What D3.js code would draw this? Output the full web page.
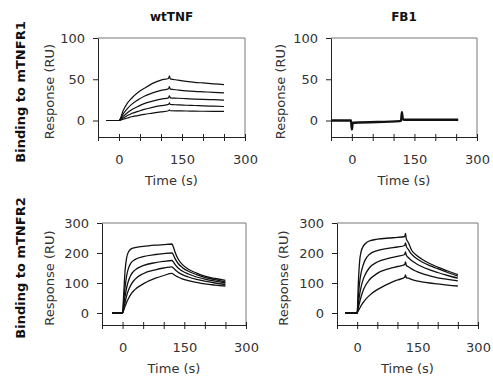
<!DOCTYPE html>
<html><head><meta charset="utf-8">
<script src="https://cdn.jsdelivr.net/npm/d3@7"></script>
<style>body{margin:0;background:#fff}svg{display:block}</style>
</head><body>
<script>
// ---- Data ----
const colTitles = ["wtTNF", "FB1"];
const rowTitles = ["Binding to mTNFR1", "Binding to mTNFR2"];
const xTicks = [-50, 0, 50, 100, 150, 200, 250, 300];
const xTickLabels = ["", "0", "", "", "150", "", "", "300"];
const yTicksTop = [100, 50, 0];
const yTicksBottom = [300, 200, 100, 0];

// wtTNF / mTNFR1
const tlTime = [-30, 0, 10, 20, 30, 45, 60, 80, 100, 118, 120, 122, 140, 160, 180, 200, 225, 250];
const tl1 = [0, 0, 12, 21, 27, 34, 39, 45, 49, 51, 54, 50.5, 49, 47.5, 46.3, 45.5, 44.5, 43.5];
const tl2 = [0, 0, 8, 14.5, 19.5, 25, 29.5, 33.5, 36.5, 38.5, 41, 38, 37, 36, 35.3, 34.8, 34.2, 33.5];
const tl3 = [0, 0, 5, 9.5, 13, 17, 20.5, 23.5, 26, 27.5, 30, 27.5, 27, 26.5, 26, 25.6, 25.2, 24.8];
const tl4 = [0, 0, 3, 6, 8.5, 11, 13.5, 16, 18, 19.5, 21.5, 19.5, 19, 18.5, 18.2, 17.8, 17.4, 17];
const tl5 = [0, 0, 1.5, 3, 4.5, 6, 7.5, 9, 10.5, 11.8, 13, 11.8, 11.6, 11.5, 11.3, 11.2, 11.1, 11];

// FB1 / mTNFR1
const trTime = [-50, -2, 0, 2, 5, 115, 118, 120, 122, 125, 255];
const tr1 = [0, 0, -11, -3, -2.8, -0.8, 0, 10, 2, 1, 1];

// wtTNF / mTNFR2
const blTime = [-25, 0, 3, 6, 10, 15, 20, 30, 50, 80, 100, 120, 123, 127, 135, 145, 160, 180, 200, 225, 250];
const bl1 = [0, 0, 70, 140, 185, 205, 213, 218, 222, 226, 228, 230, 222, 205, 180, 162, 146, 133, 123, 115, 109];
const bl2 = [0, 0, 45, 85, 125, 152, 166, 178, 188, 195, 198, 200, 195, 183, 165, 152, 139, 128, 119, 111, 104];
const bl3 = [0, 0, 28, 55, 85, 110, 126, 143, 158, 168, 172, 175, 171, 163, 150, 140, 130, 120, 113, 106, 100];
const bl4 = [0, 0, 18, 35, 58, 78, 93, 112, 131, 144, 150, 154, 151, 145, 136, 128, 120, 112, 106, 100, 95];
const bl5 = [0, 0, 10, 22, 36, 50, 62, 78, 97, 116, 125, 132, 130, 126, 120, 114, 108, 102, 97, 93, 90];

// FB1 / mTNFR2
const brTime = [-30, 0, 3, 6, 10, 15, 20, 30, 50, 80, 100, 118, 120, 122, 127, 135, 145, 160, 180, 200, 225, 250];
const br1 = [0, 0, 100, 170, 205, 222, 231, 240, 246, 250, 252, 255, 265, 248, 235, 210, 195, 180, 165, 153, 140, 128];
const br2 = [0, 0, 55, 100, 135, 160, 177, 195, 208, 216, 220, 225, 234, 222, 212, 196, 184, 171, 158, 148, 135, 123];
const br3 = [0, 0, 30, 60, 88, 112, 128, 150, 170, 183, 189, 195, 204, 193, 185, 175, 166, 155, 144, 135, 125, 116];
const br4 = [0, 0, 18, 35, 55, 75, 90, 110, 132, 148, 155, 161, 170, 159, 154, 147, 140, 132, 124, 117, 112, 107];
const br5 = [0, 0, 8, 15, 25, 35, 44, 58, 78, 99, 110, 119, 127, 118, 116, 112, 108, 104, 100, 97, 93, 90];

// ---- Drawing ----
const W = 493, H = 379;
const svg = d3.select("body").append("svg").attr("width", W).attr("height", H);
const FONT = "'DejaVu Sans', Verdana, sans-serif";

const panels = [
  {x0: 98, x1: 245, y0: 137, y1: 38, ydom: [-20, 100], yt: yTicksTop, time: tlTime, series: [tl1, tl2, tl3, tl4, tl5], sw: 1.2, title: colTitles[0], ytitleX: 49},
  {x0: 331, x1: 477, y0: 137, y1: 38, ydom: [-20, 100], yt: yTicksTop, time: trTime, series: [tr1], sw: 2.4, title: colTitles[1], ytitleX: 280},
  {x0: 102, x1: 246, y0: 325, y1: 223, ydom: [-40, 300], yt: yTicksBottom, time: blTime, series: [bl1, bl2, bl3, bl4, bl5], sw: 1.3, ytitleX: 49},
  {x0: 337, x1: 478, y0: 325, y1: 223, ydom: [-40, 300], yt: yTicksBottom, time: brTime, series: [br1, br2, br3, br4, br5], sw: 1.3, ytitleX: 283}
];

panels.forEach(p => {
  const x = d3.scaleLinear().domain([-50, 300]).range([p.x0, p.x1]);
  const y = d3.scaleLinear().domain(p.ydom).range([p.y0, p.y1]);
  const g = svg.append("g");

  // frame top/right (lighter)
  g.append("path").attr("d", `M${p.x0},${p.y1}H${p.x1}V${p.y0}`)
    .attr("fill", "none").attr("stroke", "#777").attr("stroke-width", 1);

  // x axis
  const xa = g.append("g").attr("transform", `translate(0,${p.y0})`)
    .call(d3.axisBottom(x).tickValues(xTicks).tickSize(4).tickPadding(14)
      .tickFormat((d, i) => xTickLabels[i]));
  xa.select(".domain").attr("stroke", "#222");
  xa.selectAll(".tick line").attr("y1", -3).attr("stroke", "#222");
  xa.selectAll("text").attr("font-family", FONT).attr("font-size", 13).attr("fill", "#333");

  // y axis
  const ya = g.append("g").attr("transform", `translate(${p.x0},0)`)
    .call(d3.axisLeft(y).tickValues(p.yt).tickSize(5).tickPadding(8).tickSizeOuter(0));
  ya.select(".domain").attr("stroke", "#222");
  ya.selectAll(".tick line").attr("stroke", "#222");
  ya.selectAll("text").attr("font-family", FONT).attr("font-size", 13).attr("fill", "#333");

  // curves
  const line = d3.line().x((d, i) => x(p.time[i])).y(d => y(d)).curve(d3.curveMonotoneX);
  p.series.forEach(s => {
    g.append("path").attr("d", line(s)).attr("fill", "none")
      .attr("stroke", "#111").attr("stroke-width", p.sw).attr("stroke-linejoin", "round");
  });

  // titles
  if (p.title) {
    g.append("text").attr("x", (p.x0 + p.x1) / 2).attr("y", 21).attr("text-anchor", "middle")
      .attr("font-family", FONT).attr("font-weight", "bold").attr("font-size", 12).attr("fill", "#111")
      .text(p.title);
  }
  g.append("text").attr("x", (p.x0 + p.x1) / 2).attr("y", p.y0 + 48).attr("text-anchor", "middle")
    .attr("font-family", FONT).attr("font-size", 13).attr("fill", "#333").text("Time (s)");
  g.append("text").attr("transform", `translate(${p.ytitleX},${(p.y0 + p.y1) / 2 + 4}) rotate(-90)`)
    .attr("text-anchor", "middle").attr("dy", "0.35em")
    .attr("font-family", FONT).attr("font-size", 13).attr("fill", "#333").text("Response (RU)");
});

// row titles
[[92, rowTitles[0]], [268, rowTitles[1]]].forEach(([cy, t]) => {
  svg.append("text").attr("transform", `translate(20,${cy}) rotate(-90)`)
    .attr("text-anchor", "middle").attr("dy", "0.35em")
    .attr("font-family", FONT).attr("font-weight", "bold").attr("font-size", 13).attr("fill", "#111")
    .text(t);
});
</script>
</body></html>
